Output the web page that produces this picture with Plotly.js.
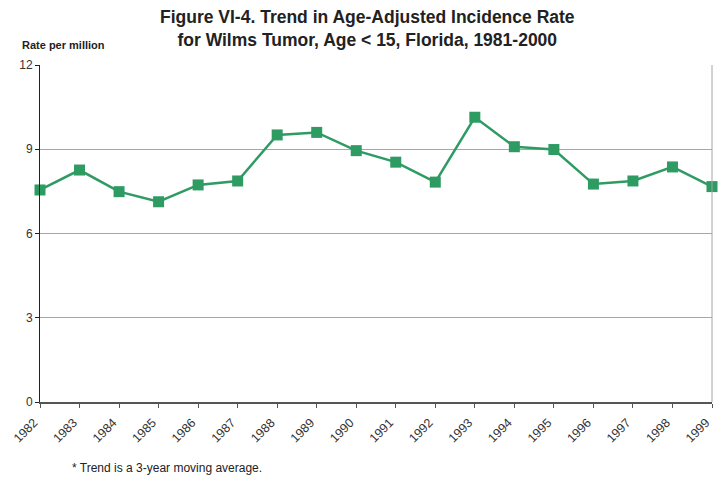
<!DOCTYPE html>
<html>
<head>
<meta charset="utf-8">
<script src="https://cdn.plot.ly/plotly-3.0.1.min.js"></script>
<style>html,body{margin:0;padding:0;background:#fff;}#chart{width:725px;height:481px;}</style>
</head>
<body>
<div id="chart"></div>
<script>
const years = ['1982','1983','1984','1985','1986','1987','1988','1989','1990','1991','1992','1993','1994','1995','1996','1997','1998','1999'];
const rates = [7.55, 8.26, 7.49, 7.13, 7.73, 7.87, 9.51, 9.60, 8.95, 8.54, 7.83, 10.14, 9.09, 8.99, 7.76, 7.87, 8.37, 7.67];
const yTicks = [0, 3, 6, 9, 12];

const trace = {
  x: years, y: rates, type: 'scatter', mode: 'lines+markers',
  line: {color: '#2e9b63', width: 2.5},
  marker: {symbol: 'square', size: 11, color: '#2e9b63'},
  cliponaxis: false, hoverinfo: 'none'
};

const layout = {
  width: 725, height: 481,
  margin: {l: 40, r: 13, t: 65, b: 79},
  paper_bgcolor: '#fff', plot_bgcolor: '#fff',
  showlegend: false,
  font: {family: 'Liberation Sans, Arial, sans-serif', color: '#333'},
  xaxis: {
    type: 'category', range: [0, years.length - 1],
    tickangle: -45, tickfont: {size: 12.5, color: '#333'},
    ticklabelshift: -6, ticklabelstandoff: 3,
    showline: true, linecolor: '#555', linewidth: 1.5,
    ticks: 'outside', ticklen: 4, tickcolor: '#555',
    showgrid: false, zeroline: false, fixedrange: true
  },
  yaxis: {
    range: [0, 12], tickvals: yTicks, ticktext: yTicks.map(String),
    tickfont: {size: 12, color: '#333'},
    showline: true, linecolor: '#222', linewidth: 1,
    ticks: 'outside', ticklen: 4, tickcolor: '#222',
    showgrid: true, gridcolor: '#a6a6a6', gridwidth: 1,
    zeroline: false, fixedrange: true
  },
  shapes: [
    {type: 'line', xref: 'paper', yref: 'paper', x0: 1, x1: 1, y0: 0, y1: 1, line: {color: '#a6a6a6', width: 1}}
  ],
  annotations: [
    {text: '<b>Figure VI-4. Trend in Age-Adjusted Incidence Rate<br>for Wilms Tumor, Age < 15, Florida, 1981-2000</b>', xref: 'paper', yref: 'paper', x: 0.488, y: 1.108, xanchor: 'center', yanchor: 'middle', showarrow: false, font: {size: 17.5, color: '#222'}},
    {text: '<b>Rate per million</b>', xref: 'paper', yref: 'paper', x: -0.03, y: 1.06, xanchor: 'left', yanchor: 'middle', showarrow: false, font: {size: 11, color: '#222'}},
    {text: '* Trend is a 3-year moving average.', xref: 'paper', yref: 'paper', x: 0.045, y: -0.195, xanchor: 'left', yanchor: 'middle', showarrow: false, font: {size: 12, color: '#222'}}
  ]
};

Plotly.newPlot('chart', [trace], layout, {displayModeBar: false, staticPlot: true});
</script>
</body>
</html>
